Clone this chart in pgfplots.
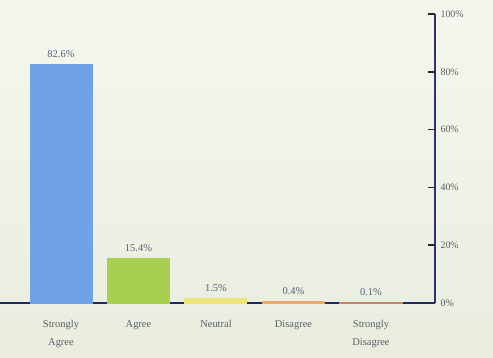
\documentclass[border=0pt]{standalone}
\usepackage{pgfplots}
\pgfplotsset{compat=1.18}
\usepackage{fontspec}
\setmainfont{Liberation Serif}
\definecolor{bgtop}{HTML}{F5F7EE}
\definecolor{bgbot}{HTML}{E9EDDE}
\definecolor{cblue}{HTML}{6FA2E6}
\definecolor{cgreen}{HTML}{A8CF4E}
\definecolor{cyellow}{HTML}{E9E37A}
\definecolor{corange}{HTML}{F2A86A}
\definecolor{cred}{HTML}{C98370}
\definecolor{navy}{HTML}{2E3178}
\definecolor{txt}{HTML}{5A5E66}
\definecolor{lbl}{HTML}{56627A}
\begin{document}
\begin{tikzpicture}
\useasboundingbox (0,-55bp) rectangle (493bp,303bp);
\shade[top color=bgtop, bottom color=bgbot] (0,-55bp) rectangle (493bp,303bp);
\begin{axis}[
  name=ax, at={(0,0)}, anchor=south west,
  scale only axis, width=435bp, height=289bp,
  xmin=-0.787, xmax=4.826, ymin=0, ymax=100,
  enlargelimits=false, clip=false,
  axis x line=bottom, axis y line=right,
  axis line style={-},
  x axis line style={draw=navy!80!black, line width=2pt},
  y axis line style={draw=navy, line width=1.6pt},
  xtick={0,...,4},
  xticklabels={{Strongly\\Agree},Agree,Neutral,Disagree,{Strongly\\Disagree}},
  xticklabel style={align=center, font=\fontsize{10.5}{18}\selectfont, text=txt, yshift=-7bp},
  major x tick style={draw=none},
  ytick={0,20,...,100},
  yticklabel={\pgfmathprintnumber{\tick}\%},
  yticklabel style={font=\fontsize{10}{12}\selectfont, text=txt, xshift=2bp},
  /pgf/number format/assume math mode=true,
  tick align=inside,
  major tick length=7bp,
  major y tick style={draw=black!85, line width=1.6pt},
  ybar, bar width=62bp, bar shift=0pt,
  nodes near coords={\pgfmathprintnumber[fixed,precision=1,fixed zerofill]{\pgfplotspointmeta}\%},
  every node near coord/.append style={font=\fontsize{10.5}{12}\selectfont, text=lbl, yshift=3bp},
]
\addplot[fill=cblue, draw=cblue] coordinates {(0,82.6)};
\addplot[fill=cgreen, draw=cgreen] coordinates {(1,15.4)};
\addplot[fill=cyellow, draw=cyellow, line width=1pt] coordinates {(2,1.5)};
\addplot[fill=corange, draw=corange, line width=1.5pt] coordinates {(3,0.4)};
\addplot[fill=cred, draw=cred, line width=1.2pt] coordinates {(4,0.1)};
\end{axis}
\end{tikzpicture}
\end{document}
